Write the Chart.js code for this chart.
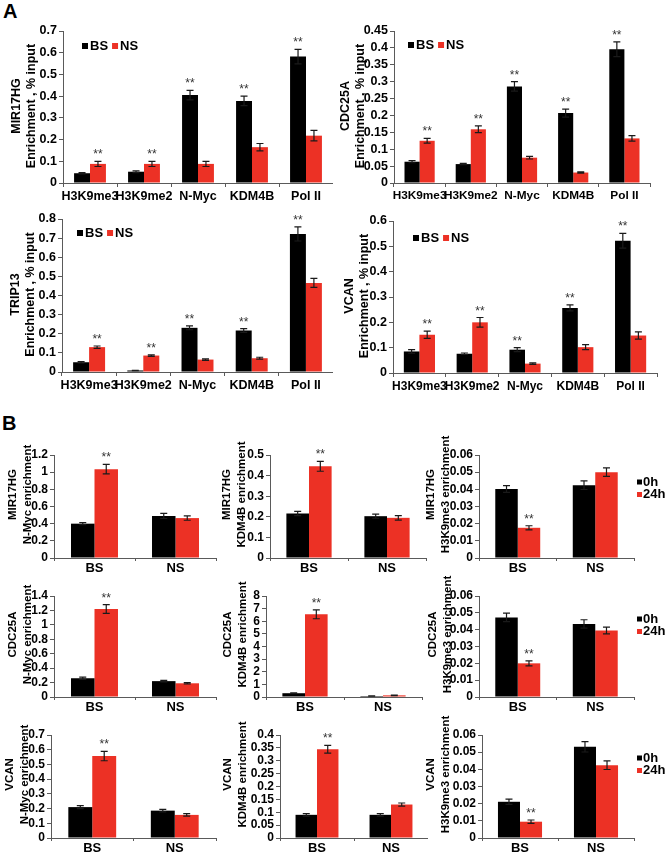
<!DOCTYPE html>
<html><head><meta charset="utf-8">
<script src="https://cdn.jsdelivr.net/npm/chart.js@4.4.1/dist/chart.umd.min.js"></script>
<style>
html,body{margin:0;padding:0;background:#fff;width:666px;height:852px;overflow:hidden;position:relative;font-family:"Liberation Sans",Arial,sans-serif}
.lab{position:absolute;font-weight:bold;font-size:20px;line-height:23px;color:#000}
canvas{position:absolute}
</style></head><body>
<div class="lab" style="left:3px;top:0px">A</div>
<div class="lab" style="left:2px;top:412px">B</div>
<script>
// ---------- DATA ----------
const categoriesA = ['H3K9me3','H3K9me2','N-Myc','KDM4B','Pol II'];
const seriesA = ['BS','NS'];
const categoriesB = ['BS','NS'];
const seriesB = ['0h','24h'];

// Panel A: enrichment, % input
const mir17hgBS = [0.045, 0.052, 0.405, 0.378, 0.582];
const mir17hgBSerr = [0.003, 0.004, 0.022, 0.022, 0.033];
const mir17hgNS = [0.088, 0.088, 0.088, 0.165, 0.218];
const mir17hgNSerr = [0.012, 0.012, 0.012, 0.017, 0.024];

const cdc25aBS = [0.063, 0.056, 0.286, 0.207, 0.396];
const cdc25aBSerr = [0.003, 0.002, 0.014, 0.012, 0.022];
const cdc25aNS = [0.125, 0.159, 0.075, 0.031, 0.132];
const cdc25aNSerr = [0.007, 0.010, 0.004, 0.002, 0.008];

const trip13BS = [0.051, 0.008, 0.231, 0.217, 0.722];
const trip13BSerr = [0.004, 0.001, 0.010, 0.010, 0.037];
const trip13NS = [0.130, 0.086, 0.065, 0.072, 0.466];
const trip13NSerr = [0.006, 0.004, 0.004, 0.005, 0.024];

const vcanBS = [0.085, 0.076, 0.092, 0.257, 0.522];
const vcanBSerr = [0.007, 0.003, 0.008, 0.012, 0.029];
const vcanNS = [0.151, 0.200, 0.037, 0.102, 0.148];
const vcanNSerr = [0.014, 0.019, 0.003, 0.010, 0.014];

const starsA_BS = [2, 3, 4];
const starsA_NS = [0, 1];

// Panel B: 0h vs 24h
const mirNmyc0h = [0.40, 0.49],   mirNmyc0hErr = [0.012, 0.03];
const mirNmyc24h = [1.035, 0.465], mirNmyc24hErr = [0.055, 0.025];
const mirKdm0h = [0.216, 0.203],  mirKdm0hErr = [0.010, 0.010];
const mirKdm24h = [0.445, 0.195], mirKdm24hErr = [0.024, 0.011];
const mirH3k0h = [0.0402, 0.0424], mirH3k0hErr = [0.002, 0.0025];
const mirH3k24h = [0.0176, 0.050], mirH3k24hErr = [0.0012, 0.0025];

const cdcNmyc0h = [0.26, 0.22],   cdcNmyc0hErr = [0.015, 0.010];
const cdcNmyc24h = [1.22, 0.19],  cdcNmyc24hErr = [0.06, 0.010];
const cdcKdm0h = [0.30, 0.08],    cdcKdm0hErr = [0.03, 0.01];
const cdcKdm24h = [6.55, 0.13],   cdcKdm24hErr = [0.35, 0.02];
const cdcH3k0h = [0.0473, 0.0434], cdcH3k0hErr = [0.0025, 0.0025];
const cdcH3k24h = [0.020, 0.0395], cdcH3k24hErr = [0.0015, 0.002];

const vcNmyc0h = [0.21, 0.186],   vcNmyc0hErr = [0.010, 0.008];
const vcNmyc24h = [0.557, 0.157], vcNmyc24hErr = [0.032, 0.008];
const vcKdm0h = [0.09, 0.09],     vcKdm0hErr = [0.005, 0.005];
const vcKdm24h = [0.345, 0.13],   vcKdm24hErr = [0.015, 0.006];
const vcH3k0h = [0.0211, 0.0531], vcH3k0hErr = [0.0015, 0.003];
const vcH3k24h = [0.0095, 0.0424], vcH3k24hErr = [0.001, 0.0025];

const starsB_24h = [0];

// ---------- STYLE ----------
const FAM = '"Liberation Sans", Arial, sans-serif';
const RED = '#EC3125';
const BLACK = '#000000';
const AXIS = '#5a5a5a';
const COLORS = [BLACK, RED];
Chart.defaults.font.family = FAM;

function fmt(v){ return String(Math.round(v*10000)/10000); }

function overlay(cfg){
  return {
    id: 'overlay',
    afterDatasetsDraw(chart){
      const ctx = chart.ctx, ys = chart.scales.y;
      ctx.save();
      chart.data.datasets.forEach((ds, i) => {
        const meta = chart.getDatasetMeta(i);
        meta.data.forEach((bar, j) => {
          const v = ds.data[j], e = ds.errors[j];
          const yt = ys.getPixelForValue(v + e), yb = ys.getPixelForValue(Math.max(0, v - e));
          const cap = cfg.cap;
          ctx.strokeStyle = '#1a1a1a'; ctx.lineWidth = 1.2;
          ctx.beginPath();
          ctx.moveTo(bar.x, yt); ctx.lineTo(bar.x, yb);
          ctx.moveTo(bar.x - cap, yt); ctx.lineTo(bar.x + cap, yt);
          ctx.moveTo(bar.x - cap, yb); ctx.lineTo(bar.x + cap, yb);
          ctx.stroke();
          if (ds.stars && ds.stars.includes(j)) {
            ctx.fillStyle = '#333'; ctx.font = cfg.starFont;
            ctx.textAlign = 'center'; ctx.textBaseline = 'alphabetic';
            ctx.fillText('**', bar.x, yt - cfg.starGap);
          }
        });
      });
      ctx.restore();
    },
    afterDraw(chart){
      const L = cfg.legend; if (!L) return;
      const ctx = chart.ctx, ca = chart.chartArea;
      ctx.save();
      ctx.font = L.font; ctx.textBaseline = 'middle'; ctx.textAlign = 'left';
      let x = (L.vertical ? ca.right : ca.left) + L.dx, y = ca.top + L.dy;
      chart.data.datasets.forEach(ds => {
        ctx.fillStyle = ds.backgroundColor;
        ctx.fillRect(x, y - L.box/2, L.box, L.box);
        ctx.fillStyle = '#000';
        ctx.fillText(ds.label, x + L.box + L.gap, y);
        if (L.vertical) y += L.step;
        else x += L.box + L.gap + ctx.measureText(ds.label).width + L.itemGap;
      });
      ctx.restore();
    }
  };
}

function makeChart(cfg){
  const [x0, y0, x1, y1] = cfg.box;
  const [l, t, r, b] = cfg.area;
  const cv = document.createElement('canvas');
  cv.width = x1 - x0; cv.height = y1 - y0;
  cv.style.left = x0 + 'px'; cv.style.top = y0 + 'px';
  cv.style.width = (x1 - x0) + 'px'; cv.style.height = (y1 - y0) + 'px';
  document.body.appendChild(cv);
  const lh = cfg.titleSize * cfg.titleLH;
  const padLeft = cfg.titleX - lh/2 - x0;
  const yW = l - (cfg.titleX - lh/2);
  const xH = cfg.xH;
  const tShift = cfg.titleShift || 0;
  new Chart(cv, {
    type: 'bar',
    data: {
      labels: cfg.labels,
      datasets: cfg.series.map((s, i) => ({
        label: s.name, data: s.data, errors: s.err, stars: s.stars || [],
        backgroundColor: COLORS[i], borderWidth: 0,
        categoryPercentage: cfg.catPct, barPercentage: 1
      }))
    },
    options: {
      responsive: false, animation: false, devicePixelRatio: 1,
      layout: { padding: { left: padLeft, top: t - y0, right: x1 - r, bottom: y1 - b - xH } },
      plugins: { legend: { display: false }, tooltip: { enabled: false } },
      scales: {
        x: {
          grid: { display: true, drawOnChartArea: false, offset: true, tickLength: cfg.xTick, color: AXIS },
          border: { color: AXIS, width: 1 },
          ticks: { font: { size: cfg.xFont, weight: 'bold' }, color: '#000', padding: cfg.xPad, maxRotation: 0, minRotation: 0, autoSkip: false },
          afterFit(s){ s.height = xH; s.paddingLeft = 0; s.paddingRight = 0; }
        },
        y: {
          min: 0, max: cfg.max,
          ticks: { stepSize: cfg.step, autoSkip: false, font: { size: cfg.yFont, weight: 'bold' }, color: '#000', padding: 2, callback: v => fmt(v) },
          grid: { drawOnChartArea: false, tickLength: 4, color: AXIS },
          border: { color: AXIS, width: 1 },
          title: { display: true, text: cfg.title, color: '#000', padding: 0,
                   font: { size: cfg.titleSize, weight: 'bold', lineHeight: cfg.titleLH } },
          afterFit(s){
            s.width = yW; s.paddingTop = 0; s.paddingBottom = 0;
            if (!s._titlePatched) {
              const orig = s.drawTitle;
              s.drawTitle = function(){
                const tp = this.top, bt = this.bottom;
                this.top = tp + tShift; this.bottom = bt + tShift;
                orig.call(this);
                this.top = tp; this.bottom = bt;
              };
              s._titlePatched = true;
            }
          }
        }
      }
    },
    plugins: [overlay(cfg)]
  });
}

// ---------- PANEL A ----------
const A = { labels: categoriesA, catPct: 0.59, xH: 22, xTick: 4, xPad: 2, xFont: 12.5, yFont: 12.5,
            titleSize: 12.5, titleLH: 1.2, titleShift: -1, cap: 3.5, starFont: '12px ' + FAM, starGap: 3 };
const legA = (dx, dy) => ({ dx, dy, box: 6, gap: 2, itemGap: 4, font: 'bold 13px ' + FAM });

makeChart(Object.assign({}, A, {
  box: [0, 20, 333, 210], area: [63, 31, 333, 183], titleX: 17,
  max: 0.7, step: 0.1, title: ['MIR17HG', 'Enrichment , % input'],
  series: [{ name: seriesA[0], data: mir17hgBS, err: mir17hgBSerr, stars: starsA_BS },
           { name: seriesA[1], data: mir17hgNS, err: mir17hgNSerr, stars: starsA_NS }],
  legend: legA(19, 15)
}));
makeChart(Object.assign({}, A, {
  box: [333, 20, 666, 210], area: [394, 31, 650, 183], titleX: 346, xFont: 11.8,
  max: 0.45, step: 0.05, title: ['CDC25A', 'Enrichment , % input'],
  series: [{ name: seriesA[0], data: cdc25aBS, err: cdc25aBSerr, stars: starsA_BS },
           { name: seriesA[1], data: cdc25aNS, err: cdc25aNSerr, stars: starsA_NS }],
  legend: legA(14, 14)
}));
makeChart(Object.assign({}, A, {
  box: [0, 205, 333, 398], area: [62, 219, 333, 372], titleX: 16,
  max: 0.8, step: 0.1, title: ['TRIP13', 'Enrichment , % input'],
  series: [{ name: seriesA[0], data: trip13BS, err: trip13BSerr, stars: starsA_BS },
           { name: seriesA[1], data: trip13NS, err: trip13NSerr, stars: starsA_NS }],
  legend: legA(15, 14)
}));
makeChart(Object.assign({}, A, {
  box: [333, 205, 666, 398], area: [393, 221, 657, 373], titleX: 350, xFont: 12,
  max: 0.6, step: 0.1, title: ['VCAN', 'Enrichment , % input'],
  series: [{ name: seriesA[0], data: vcanBS, err: vcanBSerr, stars: starsA_BS },
           { name: seriesA[1], data: vcanNS, err: vcanNSerr, stars: starsA_NS }],
  legend: legA(20, 17)
}));

// ---------- PANEL B ----------
const B = { labels: categoriesB, catPct: 0.58, xH: 20, xTick: 3, xPad: 0, xFont: 13, yFont: 12,
            titleSize: 11.5, titleLH: 1.3, titleShift: -12, cap: 3.5, starFont: '12px ' + FAM, starGap: 3 };
const legB = (dy) => ({ vertical: true, dx: 3, dy, step: 12.5, box: 5, gap: 1, font: 'bold 13px ' + FAM });
const ser = (d0, e0, d1, e1) => [{ name: seriesB[0], data: d0, err: e0 },
                                 { name: seriesB[1], data: d1, err: e1, stars: starsB_24h }];

// row 1
makeChart(Object.assign({}, B, { box: [0, 428, 218, 585], area: [54, 455, 216, 558], titleX: 12.5,
  max: 1.2, step: 0.2, title: ['MIR17HG', 'N-Myc enrichment'],
  series: ser(mirNmyc0h, mirNmyc0hErr, mirNmyc24h, mirNmyc24hErr) }));
makeChart(Object.assign({}, B, { box: [218, 428, 428, 585], area: [270, 455, 426, 558], titleX: 227,
  max: 0.5, step: 0.1, title: ['MIR17HG', 'KDM4B enrichment'],
  series: ser(mirKdm0h, mirKdm0hErr, mirKdm24h, mirKdm24hErr) }));
makeChart(Object.assign({}, B, { box: [420, 428, 666, 585], area: [479, 455, 634, 558], titleX: 431,
  max: 0.06, step: 0.01, title: ['MIR17HG', 'H3K9me3 enrichment'],
  series: ser(mirH3k0h, mirH3k0hErr, mirH3k24h, mirH3k24hErr), legend: legB(27) }));
// row 2
makeChart(Object.assign({}, B, { box: [0, 570, 218, 722], area: [54, 596, 216, 697], titleX: 12.5,
  max: 1.4, step: 0.2, title: ['CDC25A', 'N-Myc enrichment'],
  series: ser(cdcNmyc0h, cdcNmyc0hErr, cdcNmyc24h, cdcNmyc24hErr) }));
makeChart(Object.assign({}, B, { box: [218, 570, 428, 722], area: [266, 596, 422, 697], titleX: 228,
  max: 8, step: 1, title: ['CDC25A', 'KDM4B enrichment'],
  series: ser(cdcKdm0h, cdcKdm0hErr, cdcKdm24h, cdcKdm24hErr) }));
makeChart(Object.assign({}, B, { box: [420, 570, 666, 722], area: [479, 596, 634, 697], titleX: 433,
  max: 0.06, step: 0.01, title: ['CDC25A', 'H3K9me3 enrichment'],
  series: ser(cdcH3k0h, cdcH3k0hErr, cdcH3k24h, cdcH3k24hErr), legend: legB(23) }));
// row 3
makeChart(Object.assign({}, B, { box: [0, 710, 218, 862], area: [51, 735, 216, 838], titleX: 10,
  max: 0.7, step: 0.1, title: ['VCAN', 'N-Myc enrichment'],
  series: ser(vcNmyc0h, vcNmyc0hErr, vcNmyc24h, vcNmyc24hErr) }));
makeChart(Object.assign({}, B, { box: [218, 710, 428, 862], area: [280, 735, 432, 838], titleX: 228,
  max: 0.4, step: 0.05, title: ['VCAN', 'KDM4B enrichment'],
  series: ser(vcKdm0h, vcKdm0hErr, vcKdm24h, vcKdm24hErr) }));
makeChart(Object.assign({}, B, { box: [420, 710, 666, 862], area: [482, 735, 634, 838], titleX: 431,
  max: 0.06, step: 0.01, title: ['VCAN', 'H3K9me3 enrichment'],
  series: ser(vcH3k0h, vcH3k0hErr, vcH3k24h, vcH3k24hErr), legend: legB(23) }));
</script>
</body></html>
